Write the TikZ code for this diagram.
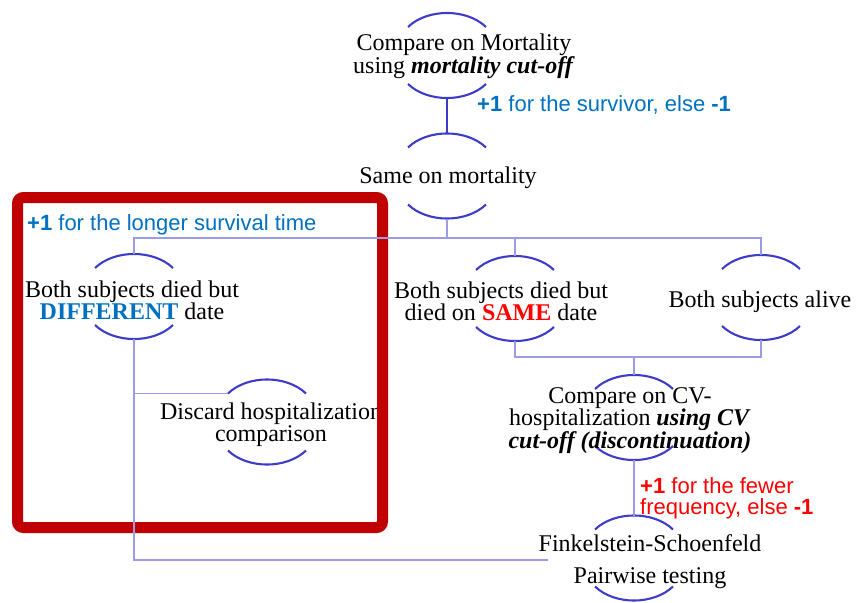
\documentclass[tikz,border=0pt]{standalone}
\usepackage{fontspec}
\setmainfont{Liberation Serif}
\setsansfont{Liberation Sans}
\usetikzlibrary{positioning}
\usepackage{xcolor}
\definecolor{ringblue}{RGB}{60,60,200}
\definecolor{linkblue}{RGB}{155,155,230}
\definecolor{scoreblue}{RGB}{0,112,192}
\definecolor{framered}{RGB}{192,0,0}
\definecolor{samered}{RGB}{255,0,0}

\begin{document}
\begin{tikzpicture}[x=1pt,y=-1pt,
    ring/.pic={
      \draw[ringblue,line width=2.1pt] (-39,-28.5) .. controls (-19.5,-47.2) and (19.5,-47.2) .. (39,-28.5);
      \draw[ringblue,line width=2.1pt] (-39,28.5) .. controls (-19.5,47.2) and (19.5,47.2) .. (39,28.5);
      \coordinate (-top) at (0,-42.5);
      \coordinate (-bot) at (0,42.5);
      \coordinate (-tl) at (-39,-28.5);
    },
    box/.style={align=center,inner sep=0pt,font=\fontsize{24}{22}\selectfont},
    score/.style={inner sep=0pt,anchor=west,font=\sffamily\fontsize{22}{21}\selectfont},
    link/.style={linkblue,line width=1.6pt}]
\useasboundingbox (0,0) rectangle (856,602);

    \pic (mortr) at (447,55.5) {ring};
    \pic (samer) at (447,176) {ring};
    \pic (diffr) at (134,296.5) {ring};
    \pic (discr) at (267,422) {ring};
    \pic (samedr) at (515,298.5) {ring};
    \pic (aliver) at (761,297.5) {ring};
    \pic (cvr) at (634,417.5) {ring};
    \pic (finkr) at (634,558) {ring};

    \node[box] (mort) at (464,56) {Compare on Mortality\\using \textbf{\textit{mortality cut-off}}};
    \node[box] (same) at (448,178) {Same on mortality};
    \node[box] (diff) at (132,300) {Both subjects died but\\\textcolor{scoreblue}{\textbf{DIFFERENT}} date};
    \node[box] (disc) at (271,425) {Discard hospitalization\\comparison};
    \node[box] (samed) at (501,301) {Both subjects died but\\died on \textcolor{samered}{\textbf{SAME}} date};
    \node[box] (alive) at (760,302) {Both subjects alive};
    \node[box] (cv) at (630,421) {Compare on CV-\\hospitalization \textbf{\textit{using CV}}\\\textbf{\textit{cut-off (discontinuation)}}};
    \node[box] (fink) at (650,562) {Finkelstein-Schoenfeld\\[10pt]Pairwise testing};

    \node[score,scoreblue] (survlab) at (477,105) {\textbf{+1} for the survivor, else \textbf{-1}};
    \node[score,scoreblue] (longlab) at (27,225) {\textbf{+1} for the longer survival time};
    \node[score,samered,align=left] (fewlab) at (640,498) {\textbf{+1} for the fewer\\frequency, else \textbf{-1}};

    \draw[framered,line width=11pt,rounded corners=6pt] (17.5,197.5) rectangle (382.5,527.5);

    \coordinate (bus) at (447,238);
    \coordinate (bus2) at (634,357);
    \coordinate (finkin) at (548,560);
    \draw[ringblue,line width=2.1pt] (mortr-bot) -- (samer-top);
    \draw[link] (samer-bot) -- (bus);
    \draw[link] (diffr-top) |- (aliver-top |- bus) -- (aliver-top);
    \draw[link] (samedr-top) -- (samedr-top |- bus);
    \draw[link] (samedr-bot) |- (bus2) -| (aliver-bot);
    \draw[link] (bus2) -- (cvr-top);
    \draw[link] (cvr-bot) -- (finkr-top);
    \draw[link] (diffr-bot) |- (finkin);
    \draw[link] (diffr-bot |- discr-tl) -- (discr-tl);
\end{tikzpicture}
\end{document}
